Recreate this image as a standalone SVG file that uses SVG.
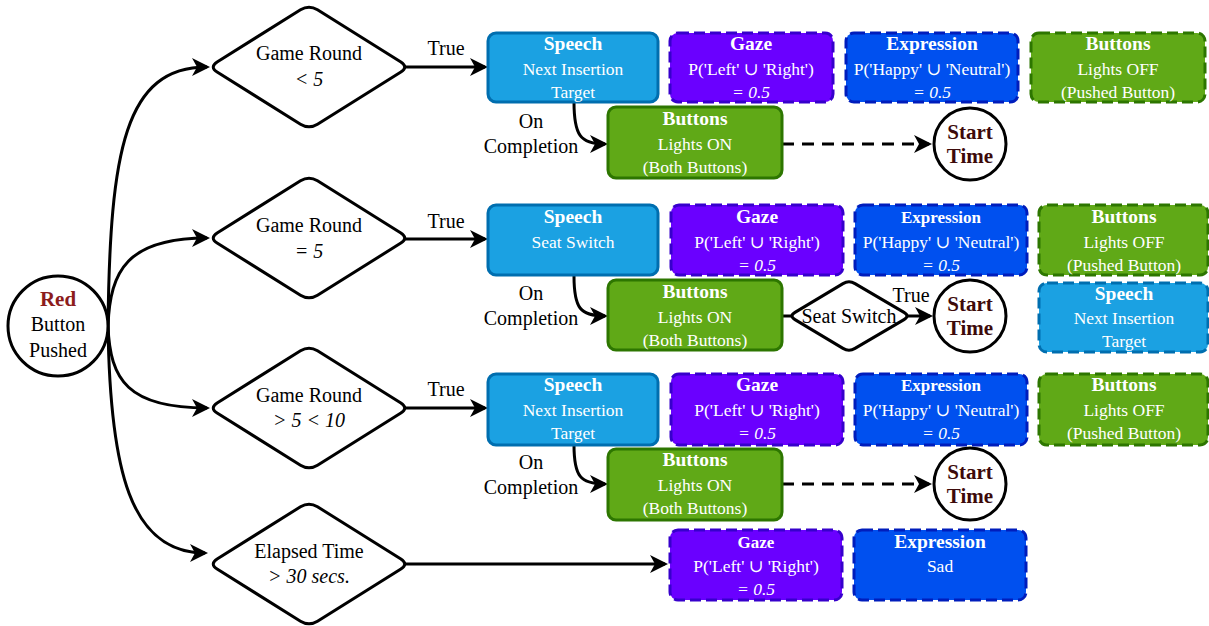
<svg xmlns="http://www.w3.org/2000/svg" width="1209" height="626" viewBox="0 0 1209 626">
<defs>
<marker id="arr" markerUnits="userSpaceOnUse" viewBox="0 0 18 18" markerWidth="18" markerHeight="18" refX="15" refY="9" orient="auto">
<path d="M0,0 L18,9 L0,18 L5,9 z" fill="#000"/>
</marker>
<path id="dshape" d="M300.5,9.8 Q309,4.5 317.5,9.8 L400.5,61.7 Q409,67 400.5,72.3 L317.5,124.2 Q309,129.5 300.5,124.2 L217.5,72.3 Q209,67 217.5,61.7 Z"/>
</defs>
<style>
text{font-family:"Liberation Serif","Times New Roman","DejaVu Serif",serif;text-anchor:middle}
.lbl{font-size:20px;fill:#000}
.it{font-style:italic}
.w{fill:#fff;font-size:17.5px}
.t{fill:#fff;font-size:19.5px;font-weight:bold}
.t2{fill:#fff;font-size:17px;font-weight:bold}
.dia{fill:#fff;stroke:#000;stroke-width:3;stroke-linejoin:round}
.circ{fill:#fff;stroke:#000;stroke-width:3}
.sp{fill:#1ba1e2;stroke:#006eaf;stroke-width:3}
.gz{fill:#6a00ff;stroke:#3700cc;stroke-width:3}
.ex{fill:#0050ef;stroke:#001dbc;stroke-width:3}
.bt{fill:#60a917;stroke:#2d7600;stroke-width:3}
.d{stroke-dasharray:11 5}
.st{font-size:21px;font-weight:bold;fill:#3d0a0a}
.e{fill:none;stroke:#000;stroke-width:3}
</style>

<g id="connectors">
<path class="e" d="M108,326 C110,150 125,67 207,67" marker-end="url(#arr)"/>
<path class="e" d="M108,326 C110,270 128,238 207,238" marker-end="url(#arr)"/>
<path class="e" d="M108,326 C110,380 128,408 207,408" marker-end="url(#arr)"/>
<path class="e" d="M108,326 C110,470 130,553 205,553" marker-end="url(#arr)"/>
<path class="e" d="M405,67 L485,67" marker-end="url(#arr)"/>
<path class="e" d="M405,239 L485,239" marker-end="url(#arr)"/>
<path class="e" d="M405,408 L485,408" marker-end="url(#arr)"/>
<path class="e" d="M405,564 L665,564" marker-end="url(#arr)"/>
<path class="e" d="M574,102 C574,135 580,144 605,144" marker-end="url(#arr)"/>
<path class="e" d="M574,276 C574,308 580,316 605,316" marker-end="url(#arr)"/>
<path class="e" d="M574,445 C574,476 580,484 605,484" marker-end="url(#arr)"/>
<path class="e" d="M782,144 L929,144" stroke-dasharray="12 8" marker-end="url(#arr)"/>
<path class="e" d="M782,484 L929,484" stroke-dasharray="12 8" marker-end="url(#arr)"/>
<path class="e" d="M782,316 L792,316"/>
<path class="e" d="M907,316 L930,316" marker-end="url(#arr)"/>
<text class="lbl" x="446" y="55" font-size="19">True</text>
<text class="lbl" x="446" y="228" font-size="19">True</text>
<text class="lbl" x="446" y="396" font-size="19">True</text>
<text class="lbl" x="911" y="302" font-size="19">True</text>
<text class="lbl" x="531" y="128">On</text>
<text class="lbl" x="531" y="153">Completion</text>
<text class="lbl" x="531" y="300">On</text>
<text class="lbl" x="531" y="325">Completion</text>
<text class="lbl" x="531" y="469">On</text>
<text class="lbl" x="531" y="494">Completion</text>
</g>

<g id="red-button">
<circle class="circ" cx="58" cy="326" r="50"/>
<text x="58" y="306" font-size="21" font-weight="bold" fill="#8c1c1c">Red</text>
<text class="lbl" x="58" y="331" font-size="21">Button</text>
<text class="lbl" x="58" y="357" font-size="21">Pushed</text>
</g>

<g id="dia1">
<use href="#dshape" class="dia"/>
<text class="lbl" x="309" y="60" font-size="21">Game Round</text>
<text class="lbl it" x="309" y="86" font-size="21">&lt; 5</text>
</g>
<g id="dia2">
<use href="#dshape" class="dia" transform="translate(0,171)"/>
<text class="lbl" x="309" y="232" font-size="21">Game Round</text>
<text class="lbl it" x="309" y="258" font-size="21">= 5</text>
</g>
<g id="dia3">
<use href="#dshape" class="dia" transform="translate(0,341)"/>
<text class="lbl" x="309" y="402" font-size="21">Game Round</text>
<text class="lbl it" x="309" y="427" font-size="21">&gt; 5 &lt; 10</text>
</g>
<g id="dia4">
<use href="#dshape" class="dia" transform="translate(0,497)"/>
<text class="lbl" x="309" y="558" font-size="21">Elapsed Time</text>
<text class="lbl it" x="309" y="583" font-size="21">&gt; 30 secs.</text>
</g>

<!-- Row 1 -->
<g id="r1-speech">
<rect class="sp" x="488" y="33" width="170" height="69" rx="8"/>
<text class="t" x="573" y="50">Speech</text>
<text class="w" x="573" y="75">Next Insertion</text>
<text class="w" x="573" y="98">Target</text>
</g>
<g id="r1-gaze">
<rect class="gz d" x="670" y="33" width="163" height="69" rx="8"/>
<text class="t" x="751" y="50">Gaze</text>
<text class="w" x="751" y="75">P('Left' ∪ 'Right')</text>
<text class="w it" x="751" y="98">= 0.5</text>
</g>
<g id="r1-expr">
<rect class="ex d" x="846" y="33" width="172" height="69" rx="8"/>
<text class="t" x="932" y="50">Expression</text>
<text class="w" x="932" y="75">P('Happy' ∪ 'Neutral')</text>
<text class="w it" x="932" y="98">= 0.5</text>
</g>
<g id="r1-buttons-off">
<rect class="bt d" x="1031" y="33" width="174" height="69" rx="8"/>
<text class="t" x="1118" y="50">Buttons</text>
<text class="w" x="1118" y="75">Lights OFF</text>
<text class="w" x="1118" y="98">(Pushed Button)</text>
</g>
<g id="r1-buttons-on">
<rect class="bt" x="608" y="107" width="174" height="71" rx="8"/>
<text class="t" x="695" y="125">Buttons</text>
<text class="w" x="695" y="150">Lights ON</text>
<text class="w" x="695" y="173">(Both Buttons)</text>
</g>
<g id="r1-start">
<circle class="circ" cx="970" cy="144" r="36"/>
<text class="st" x="970" y="139">Start</text>
<text class="st" x="970" y="163">Time</text>
</g>

<!-- Row 2 -->
<g id="r2-speech">
<rect class="sp" x="488" y="205" width="170" height="70" rx="8"/>
<text class="t" x="573" y="223">Speech</text>
<text class="w" x="573" y="248">Seat Switch</text>
</g>
<g id="r2-gaze">
<rect class="gz d" x="671" y="205" width="172" height="70" rx="8"/>
<text class="t" x="757" y="223">Gaze</text>
<text class="w" x="757" y="248">P('Left' ∪ 'Right')</text>
<text class="w it" x="757" y="271">= 0.5</text>
</g>
<g id="r2-expr">
<rect class="ex d" x="855" y="205" width="172" height="70" rx="8"/>
<text class="t2" x="941" y="223">Expression</text>
<text class="w" x="941" y="248">P('Happy' ∪ 'Neutral')</text>
<text class="w it" x="941" y="271">= 0.5</text>
</g>
<g id="r2-buttons-off">
<rect class="bt d" x="1039" y="205" width="169" height="70" rx="8"/>
<text class="t" x="1124" y="223">Buttons</text>
<text class="w" x="1124" y="248">Lights OFF</text>
<text class="w" x="1124" y="271">(Pushed Button)</text>
</g>
<g id="r2-speech-next">
<rect class="sp d" x="1039" y="283" width="169" height="69" rx="8"/>
<text class="t" x="1124" y="300">Speech</text>
<text class="w" x="1124" y="324">Next Insertion</text>
<text class="w" x="1124" y="347">Target</text>
</g>
<g id="r2-buttons-on">
<rect class="bt" x="608" y="280" width="174" height="70" rx="8"/>
<text class="t" x="695" y="298">Buttons</text>
<text class="w" x="695" y="323">Lights ON</text>
<text class="w" x="695" y="346">(Both Buttons)</text>
</g>
<g id="r2-seat-switch">
<path class="dia" d="M843,283.6 Q849,280 855,283.6 L904,312.4 Q910,316 904,319.6 L855,348.4 Q849,352 843,348.4 L795,319.6 Q789,316 795,312.4 Z"/>
<text class="lbl" x="849" y="323" font-size="20">Seat Switch</text>
</g>
<g id="r2-start">
<circle class="circ" cx="970" cy="316" r="36"/>
<text class="st" x="970" y="311">Start</text>
<text class="st" x="970" y="335">Time</text>
</g>

<!-- Row 3 -->
<g id="r3-speech">
<rect class="sp" x="488" y="374" width="170" height="71" rx="8"/>
<text class="t" x="573" y="391">Speech</text>
<text class="w" x="573" y="416">Next Insertion</text>
<text class="w" x="573" y="439">Target</text>
</g>
<g id="r3-gaze">
<rect class="gz d" x="671" y="374" width="172" height="71" rx="8"/>
<text class="t" x="757" y="391">Gaze</text>
<text class="w" x="757" y="416">P('Left' ∪ 'Right')</text>
<text class="w it" x="757" y="439">= 0.5</text>
</g>
<g id="r3-expr">
<rect class="ex d" x="855" y="374" width="172" height="71" rx="8"/>
<text class="t2" x="941" y="391">Expression</text>
<text class="w" x="941" y="416">P('Happy' ∪ 'Neutral')</text>
<text class="w it" x="941" y="439">= 0.5</text>
</g>
<g id="r3-buttons-off">
<rect class="bt d" x="1039" y="374" width="169" height="71" rx="8"/>
<text class="t" x="1124" y="391">Buttons</text>
<text class="w" x="1124" y="416">Lights OFF</text>
<text class="w" x="1124" y="439">(Pushed Button)</text>
</g>
<g id="r3-buttons-on">
<rect class="bt" x="608" y="449" width="174" height="71" rx="8"/>
<text class="t" x="695" y="466">Buttons</text>
<text class="w" x="695" y="491">Lights ON</text>
<text class="w" x="695" y="514">(Both Buttons)</text>
</g>
<g id="r3-start">
<circle class="circ" cx="970" cy="484" r="36"/>
<text class="st" x="970" y="479">Start</text>
<text class="st" x="970" y="503">Time</text>
</g>

<!-- Row 4 -->
<g id="r4-gaze">
<rect class="gz d" x="670" y="530" width="172" height="70" rx="8"/>
<text class="t2" x="756" y="548">Gaze</text>
<text class="w" x="756" y="572">P('Left' ∪ 'Right')</text>
<text class="w it" x="756" y="595">= 0.5</text>
</g>
<g id="r4-expr">
<rect class="ex d" x="854" y="530" width="172" height="70" rx="8"/>
<text class="t" x="940" y="548">Expression</text>
<text class="w" x="940" y="572">Sad</text>
</g>
</svg>
